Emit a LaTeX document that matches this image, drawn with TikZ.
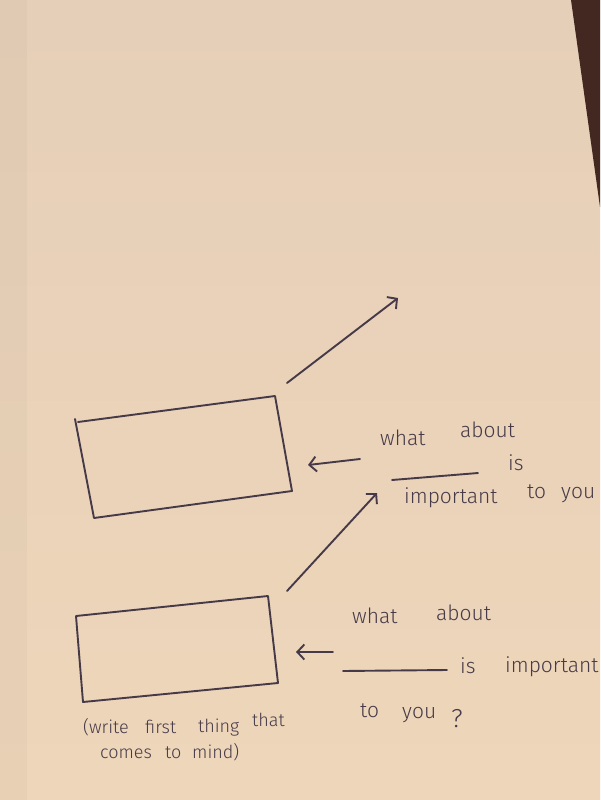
\documentclass[tikz,border=0pt]{standalone}
\usepackage{fontspec}
\newfontfamily\hand{Fira Sans Light}
\usetikzlibrary{arrows.meta}
\definecolor{paperT}{RGB}{230,207,184}
\definecolor{paperB}{RGB}{238,214,186}
\definecolor{edgec}{RGB}{66,40,32}
\definecolor{ink}{RGB}{70,58,72}
\tikzset{
  pen/.style={draw=ink, line width=1.9pt, line cap=round, line join=round},
  arr/.style={pen, -{Straight Barb[length=7pt,width=15pt,line width=1.9pt]}},
  word/.style={text=ink, font=\hand\fontsize{21}{24}\selectfont, anchor=base west, inner sep=0pt},
  note/.style={word, font=\hand\fontsize{18}{21}\selectfont},
}
\begin{document}
\begin{tikzpicture}[x=1pt,y=-1pt]
\useasboundingbox (0,0) rectangle (600,800);
\clip (0,0) rectangle (600,800);
\shade[top color=paperT, bottom color=paperB] (0,0) rectangle (600,800);
\fill[black, opacity=0.025] (0,0) rectangle (27,800);
\fill[edgec] (571,0) -- (600,0) -- (600,207) -- cycle;

% boxes
\coordinate (b1a) at (78,422); \coordinate (b1b) at (275,396);
\coordinate (b1c) at (292,491); \coordinate (b1d) at (94,518);
\draw[pen] (75,419) -- (b1d) -- (b1c) -- (b1b) -- (b1a);
\coordinate (b2a) at (76,616); \coordinate (b2b) at (268,596);
\coordinate (b2c) at (278,683); \coordinate (b2d) at (83,702);
\draw[pen] (b2a) -- (b2b) -- (b2c) -- (b2d) -- cycle;

% arrows
\coordinate (a1s) at (287,383); \coordinate (a1e) at (398,298);
\coordinate (a2s) at (360,459); \coordinate (a2e) at (308,465);
\coordinate (a3s) at (287,591); \coordinate (a3e) at (377,493);
\coordinate (a4s) at (333,652); \coordinate (a4e) at (296,652);
\draw[arr] (a1s) -- (a1e);
\draw[arr] (a2s) -- (a2e);
\draw[arr] (a3s) -- (a3e);
\draw[arr] (a4s) -- (a4e);

% blanks
\coordinate (l1s) at (392,480); \coordinate (l1e) at (478,473);
\coordinate (l2s) at (343,671); \coordinate (l2e) at (447,670);
\draw[pen] (l1s) -- (l1e);
\draw[pen] (l2s) -- (l2e);

% text 1
\node[word] (t1a) at (380,445) {what};
\node[word] (t1b) at (460,437) {about};
\node[word] (t1c) at (508,470) {is};
\node[word] (t1d) at (404,503) {important};
\node[word] (t1e) at (527,498) {to};
\node[word] (t1f) at (561,498) {you};

% text 2
\node[word] (t2a) at (352,623) {what};
\node[word] (t2b) at (436,620) {about};
\node[word] (t2c) at (460,673) {is};
\node[word] (t2d) at (505,672) {important};
\node[word] (t2e) at (360,717) {to};
\node[word] (t2f) at (402,718) {you};
\node[word, font=\hand\fontsize{26}{28}\selectfont] (t2g) at (451,727) {?};

% text 3
\node[note] (t3a) at (83,733) {(write};
\node[note] (t3b) at (145,733) {first};
\node[note] (t3c) at (198,732) {thing};
\node[note] (t3d) at (252,726) {that};
\node[note] (t3e) at (100,758) {comes};
\node[note] (t3f) at (165,758) {to};
\node[note] (t3g) at (192,758) {mind)};
\end{tikzpicture}
\end{document}
